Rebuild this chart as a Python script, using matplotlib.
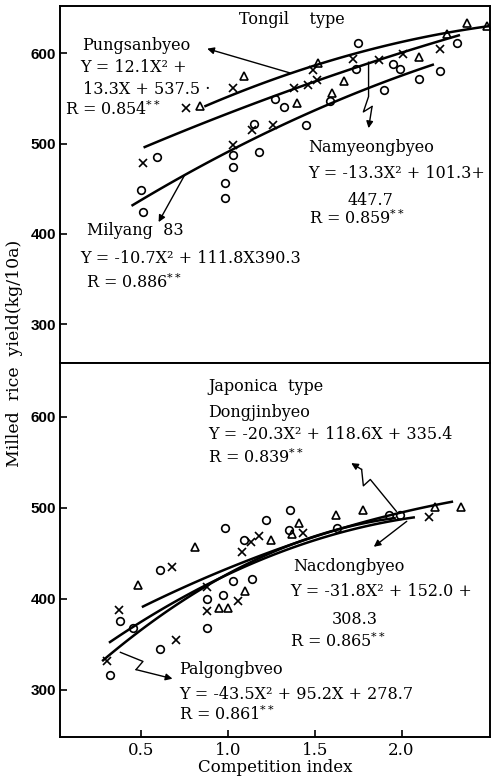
import numpy as np
import matplotlib.pyplot as plt

# (competition index, milled rice yield kg/10a)
tongil_tri_x = [0.84, 1.095, 1.40, 1.52, 1.60, 1.67, 2.10, 2.26, 2.38, 2.49]
tongil_tri_y = [542, 575, 545, 589, 556, 569, 596, 621, 633, 630]
tongil_cir_x = [0.50, 0.51, 0.59, 0.98, 0.98, 1.03, 1.03, 1.15, 1.18, 1.27, 1.32, 1.45, 1.59,
                1.74, 1.75, 1.90, 1.95, 1.99, 2.10, 2.22, 2.32]
tongil_cir_y = [449, 424, 485, 456, 440, 474, 487, 522, 491, 549, 540, 521, 547,
                582, 611, 559, 588, 583, 571, 580, 611]
tongil_x_x = [0.51, 0.76, 1.03, 1.03, 1.14, 1.26, 1.38, 1.46, 1.49, 1.51, 1.72, 1.87, 2.01, 2.22]
tongil_x_y = [478, 539, 562, 498, 515, 520, 562, 565, 581, 570, 594, 593, 599, 605]

japonica_tri_x = [0.48, 0.81, 0.95, 1.00, 1.10, 1.25, 1.37, 1.41, 1.62, 1.78, 2.19, 2.34]
japonica_tri_y = [415, 457, 390, 390, 408, 465, 471, 483, 492, 497, 501, 501]
japonica_cir_x = [0.32, 0.38, 0.45, 0.61, 0.61, 0.88, 0.88, 0.97, 0.98, 1.03, 1.09, 1.14,
                  1.22, 1.35, 1.36, 1.63, 1.93, 1.99]
japonica_cir_y = [316, 375, 368, 431, 345, 400, 368, 404, 478, 419, 465, 422,
                  486, 475, 497, 478, 492, 492]
japonica_x_x = [0.30, 0.37, 0.68, 0.70, 0.88, 0.88, 1.06, 1.08, 1.13, 1.18, 1.43, 2.16]
japonica_x_y = [331, 388, 435, 355, 413, 386, 397, 451, 462, 469, 472, 490]

# regression curves, sampled along the drawn lines
pungsan_x = [0.87, 1.36, 1.52, 1.96, 2.25, 2.52]
pungsan_y = [541, 578, 589, 609, 622, 631]
namyeong_x = [0.52, 1.38, 1.84, 2.33]
namyeong_y = [496, 561, 590, 620]
milyang_x = [0.45, 0.75, 1.03, 1.59, 2.18]
milyang_y = [433, 465, 490, 548, 586]
dongjin_x = [0.51, 1.0, 1.5, 2.0, 2.29]
dongjin_y = [391, 434, 468, 494, 507]
nacdong_x = [0.32, 0.45, 0.88, 1.5, 2.07]
nacdong_y = [353, 368, 415, 465, 489]
palgong_x = [0.28, 0.38, 0.61, 0.88, 1.4, 1.96]
palgong_y = [330, 347, 386, 415, 458, 490]

plt.rcParams['font.family'] = ['DejaVu Serif']
plt.rcParams['mathtext.fontset'] = 'dejavuserif'

fig = plt.figure(figsize=(4.96, 7.79), dpi=100)
ax1 = fig.add_axes([0.121, 0.534, 0.867, 0.458])
ax2 = fig.add_axes([0.121, 0.054, 0.867, 0.480], sharex=ax1)

mk = dict(color='black', linestyle='none', markersize=5.5, markeredgewidth=1.2)


def scatter3(ax, tx, ty, cx, cy, xx, xy):
    ax.plot(tx, ty, marker='^', markerfacecolor='none', **mk)
    ax.plot(cx, cy, marker='o', markerfacecolor='none', **mk)
    ax.plot(xx, xy, marker='x', **mk)


def curve(ax, xs, ys):
    c = np.polyfit(xs, ys, 2)
    xx = np.linspace(min(xs), max(xs), 100)
    ax.plot(xx, np.polyval(c, xx), color='black', lw=1.8)


def zigzag(ax, pts):
    xs = [p[0] for p in pts]
    ys = [p[1] for p in pts]
    ax.plot(xs[:-1], ys[:-1], color='black', lw=1.0)
    ax.annotate('', xy=pts[-1], xytext=pts[-2],
                arrowprops=dict(arrowstyle='-|>', color='black', lw=1.0,
                                mutation_scale=10, shrinkA=0, shrinkB=0))


scatter3(ax1, tongil_tri_x, tongil_tri_y, tongil_cir_x, tongil_cir_y, tongil_x_x, tongil_x_y)
curve(ax1, pungsan_x, pungsan_y)
curve(ax1, namyeong_x, namyeong_y)
curve(ax1, milyang_x, milyang_y)

scatter3(ax2, japonica_tri_x, japonica_tri_y, japonica_cir_x, japonica_cir_y,
         japonica_x_x, japonica_x_y)
curve(ax2, dongjin_x, dongjin_y)
curve(ax2, nacdong_x, nacdong_y)
curve(ax2, palgong_x, palgong_y)

# arrows from curves to labels
zigzag(ax1, [(1.36, 578), (0.88, 605)])
zigzag(ax1, [(1.81, 590), (1.81, 552), (1.78, 535), (1.83, 541), (1.81, 517)])
zigzag(ax1, [(0.75, 465), (0.60, 413)])
zigzag(ax2, [(1.97, 496), (1.82, 531), (1.78, 524), (1.77, 542), (1.71, 549)])
zigzag(ax2, [(2.03, 485), (1.84, 457)])
zigzag(ax2, [(0.38, 341), (0.51, 331), (0.47, 322), (0.68, 312)])

fs = 11.5
t1 = dict(fontsize=fs, va='center', ha='left')
ax1.text(1.37, 637, 'Tongil    type', fontsize=fs, ha='center', va='center')
ax1.text(0.16, 609, 'Pungsanbyeo', **t1)
ax1.text(0.15, 584, 'Y = 12.1X² +', **t1)
ax1.text(0.165, 560, '13.3X + 537.5 ·', **t1)
ax1.text(0.06, 538, 'R = 0.854$^{**}$', **t1)
ax1.text(1.46, 496, 'Namyeongbyeo', **t1)
ax1.text(1.46, 467, 'Y = -13.3X² + 101.3+', **t1)
ax1.text(1.69, 437, '447.7', **t1)
ax1.text(1.465, 417, 'R = 0.859$^{**}$', **t1)
ax1.text(0.19, 404, 'Milyang  83', **t1)
ax1.text(0.147, 373, 'Y = -10.7X² + 111.8X390.3', **t1)
ax1.text(0.18, 346, 'R = 0.886$^{**}$', **t1)

ax2.text(0.887, 633, 'Japonica  type', **t1)
ax2.text(0.887, 605, 'Dongjinbyeo', **t1)
ax2.text(0.887, 580, 'Y = -20.3X² + 118.6X + 335.4', **t1)
ax2.text(0.887, 555, 'R = 0.839$^{**}$', **t1)
ax2.text(1.373, 435, 'Nacdongbyeo', **t1)
ax2.text(1.36, 408, 'Y = -31.8X² + 152.0 +', **t1)
ax2.text(1.60, 377, '308.3', **t1)
ax2.text(1.36, 353, 'R = 0.865$^{**}$', **t1)
ax2.text(0.72, 322, 'Palgongbveo', **t1)
ax2.text(0.72, 294.5, 'Y = -43.5X² + 95.2X + 278.7', **t1)
ax2.text(0.72, 272.5, 'R = 0.861$^{**}$', **t1)

ax1.set_xlim(0.032, 2.51)
ax1.set_ylim(257, 652)
ax2.set_ylim(248, 659)

yticks = [300, 400, 500, 600]
xticks = [0.5, 1.0, 1.5, 2.0]
for ax in (ax1, ax2):
    ax.set_yticks(yticks)
    ax.tick_params(axis='y', direction='in', length=5, width=1.2, right=False,
                   labelsize=11, pad=3)
    for lab in ax.get_yticklabels():
        lab.set_family(['Liberation Sans', 'DejaVu Sans'])
        lab.set_fontweight('bold')
    for s in ax.spines.values():
        s.set_linewidth(1.4)
ax1.tick_params(axis='x', bottom=False, labelbottom=False)
ax2.set_xticks(xticks)
ax2.set_xticklabels(['0.5', '1.0', '1.5', '2.0'])
ax2.tick_params(axis='x', direction='in', length=5, width=1.2, labelsize=12, pad=4)
ax2.set_xlabel('Competition index', fontsize=12, labelpad=0)

fig.text(0.03, 0.546, 'Milled  rice  yield(kg/10a)', rotation=90, fontsize=12.5,
         ha='center', va='center')

fig.savefig('out.png', dpi=100)
